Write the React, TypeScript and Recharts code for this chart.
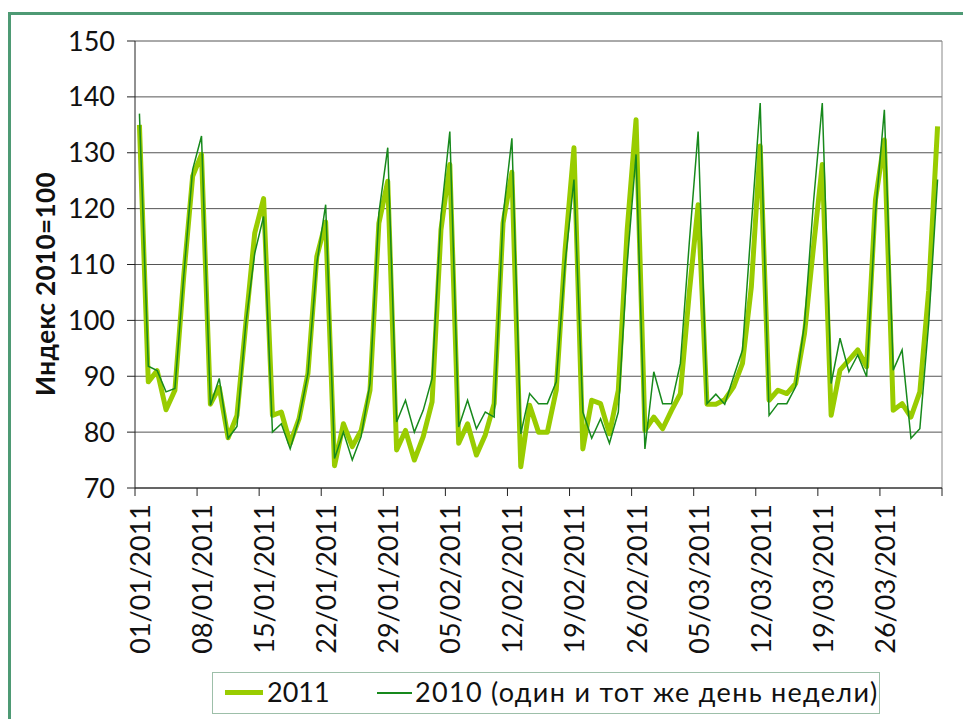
import React from "react";
import { LineChart, Line, XAxis, YAxis, CartesianGrid, ReferenceLine } from "recharts";

// Excel-style daily index chart, Q1 2011 vs the same weekday in 2010.
const W = 963;
const H = 719;
const PLOT_LEFT = 135;
const PLOT_TOP = 41;
const PLOT_RIGHT = 942;
const PLOT_BOTTOM = 488;
const X_AXIS_H = 180;
const DAYS = 91;
const HALF_BAND = (PLOT_RIGHT - PLOT_LEFT) / DAYS / 2;

const LIGHT = "#99cc00";
const DARK = "#17891c";
const FRAME = "#4e9a74";
const FONT = "Lato, 'Open Sans', sans-serif";

const tickLabels = [
  "01/01/2011", "08/01/2011", "15/01/2011", "22/01/2011", "29/01/2011",
  "05/02/2011", "12/02/2011", "19/02/2011", "26/02/2011", "05/03/2011",
  "12/03/2011", "19/03/2011", "26/03/2011",
];
// tick marks sit on the boundaries between days
const tickBounds = [-0.5, 6.5, 13.5, 20.5, 27.5, 34.5, 41.5, 48.5, 55.5, 62.5, 69.5, 76.5, 83.5, 90.5];
const yTicks = [70, 80, 90, 100, 110, 120, 130, 140, 150];

const values2011 = [
  135, 89, 91, 84, 87.5, 108, 125.8, 129.7,
  85, 88, 79, 83, 99.5, 115.6, 121.8,
  83, 83.6, 78, 82.4, 90.5, 111.4, 117.6,
  74, 81.5, 77.4, 80.3, 87.5, 117.4, 124.9,
  76.8, 80.3, 75, 79.2, 85.4, 116.2, 127.9,
  78, 81.5, 75.9, 79.5, 85.1, 117.4, 126.5,
  73.8, 84.8, 80, 80, 87.5, 112.6, 130.9,
  77, 85.7, 85.1, 79.7, 87.5, 116.2, 135.9,
  80.3, 82.7, 80.6, 83.9, 86.9, 104.9, 120.7,
  85, 85, 85.8, 88.1, 92.3, 106, 131.2,
  85.7, 87.5, 86.9, 88.7, 97.7, 113, 127.9,
  83, 91.1, 92.9, 94.7, 91.7, 121.6, 132.3,
  83.9, 85.1, 82.7, 87.2, 105.4, 134.7,
];

const values2010 = [
  137, 91.8, 91, 87.2, 87.8, 108, 127, 133,
  84.8, 89.6, 78.9, 81, 99.5, 112, 118.6,
  80, 81.5, 77, 82.4, 90.5, 110.2, 120.7,
  75.3, 80, 75, 79.2, 88.7, 119.2, 130.9,
  81.8, 85.7, 80, 83.9, 89.6, 118.6, 133.8,
  80.9, 85.7, 80.6, 83.6, 82.7, 118.6, 132.6,
  79.7, 86.9, 85.1, 85.1, 89, 110.2, 125.2,
  83.6, 78.9, 82.4, 78, 83.6, 110.2, 129.7,
  77, 90.8, 85.1, 85.1, 92.3, 113.8, 133.8,
  85.1, 86.8, 85, 89.9, 94.7, 117, 138.9,
  83, 85.1, 85.1, 88.1, 99.5, 121, 138.9,
  88.7, 96.8, 90.8, 93.8, 89.9, 119.2, 137.7,
  91.1, 94.7, 78.9, 80.6, 99.5, 125.2,
];

const data = values2011.map((v, i) => ({ day: i, y2011: v, y2010: values2010[i] }));

function DateTick(props: any) {
  const { x, y, payload } = props;
  const label = tickLabels[(payload.value + 0.5) / 7];
  if (!label) return null;
  return (
    <text
      transform={`translate(${x + HALF_BAND},${y + 6}) rotate(-90)`}
      textAnchor="end"
      dominantBaseline="central"
      fontFamily={FONT}
      fontSize={27}
      fill="#111"
    >
      {label}
    </text>
  );
}

export default function App() {
  return (
    <div style={{ position: "absolute", left: 0, top: 0, width: W, height: H, overflow: "hidden", background: "#fff" }}>
      <div
        style={{
          position: "absolute",
          left: 8,
          top: 12,
          width: 1000,
          height: 800,
          border: `3px solid ${FRAME}`,
        }}
      />
      <div style={{ position: "absolute", left: 0, top: 0 }}>
        <LineChart
          width={W}
          height={H}
          data={data}
          margin={{ top: PLOT_TOP, right: W - PLOT_RIGHT, left: 0, bottom: H - PLOT_BOTTOM - X_AXIS_H }}
        >
          <CartesianGrid vertical={false} stroke="#555" />
          <XAxis
            dataKey="day"
            type="number"
            domain={[-0.5, 90.5]}
            ticks={tickBounds}
            interval={0}
            height={X_AXIS_H}
            tickSize={8}
            tick={<DateTick />}
            axisLine={{ stroke: "#222" }}
            tickLine={{ stroke: "#222" }}
          />
          <YAxis
            domain={[70, 150]}
            ticks={yTicks}
            interval={0}
            width={PLOT_LEFT}
            tickSize={8}
            tickMargin={12}
            tick={{ fontFamily: FONT, fontSize: 27, fill: "#111" }}
            axisLine={{ stroke: "#222" }}
            tickLine={{ stroke: "#222" }}
          />
          <ReferenceLine x={90.5} stroke="#888" />
          <Line
            dataKey="y2011"
            stroke={LIGHT}
            strokeWidth={5}
            dot={false}
            strokeLinejoin="round"
            isAnimationActive={false}
          />
          <Line
            dataKey="y2010"
            stroke={DARK}
            strokeWidth={1.5}
            dot={false}
            isAnimationActive={false}
          />
        </LineChart>
      </div>
      <div
        style={{
          position: "absolute",
          left: 45,
          top: 284,
          transform: "translate(-50%, -50%) rotate(-90deg)",
          whiteSpace: "nowrap",
          fontFamily: FONT,
          fontWeight: 700,
          fontSize: 26,
          letterSpacing: 0.4,
          color: "#111",
        }}
      >
        Индекс 2010=100
      </div>
      <div
        style={{
          position: "absolute",
          left: 212,
          top: 672,
          width: 668,
          height: 42,
          boxSizing: "border-box",
          border: "1px solid #9dbfa9",
          fontFamily: FONT,
          fontSize: 27,
          color: "#111",
        }}
      >
        <div style={{ position: "absolute", left: 12, top: 17, width: 38, height: 5, background: LIGHT }} />
        <div style={{ position: "absolute", left: 54, top: 3, lineHeight: "32px" }}>2011</div>
        <div style={{ position: "absolute", left: 164, top: 19, width: 35, height: 1.5, background: DARK }} />
        <div style={{ position: "absolute", left: 202, top: 3, lineHeight: "32px", whiteSpace: "nowrap", letterSpacing: 1.3 }}>
          2010 (один и тот же день недели)
        </div>
      </div>
    </div>
  );
}
